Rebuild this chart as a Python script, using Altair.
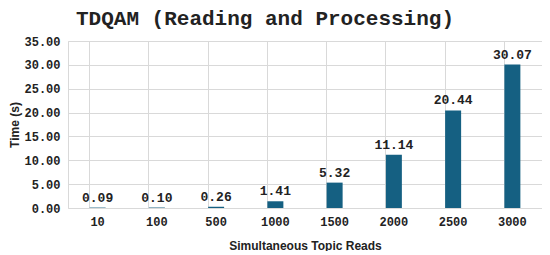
import altair as alt
import pandas as pd

categories = ["10", "100", "500", "1000", "1500", "2000", "2500", "3000"]
times = [0.09, 0.10, 0.26, 1.41, 5.32, 11.14, 20.44, 30.07]
y_ticks = [0, 5, 10, 15, 20, 25, 30, 35]

df = pd.DataFrame({"reads": categories, "time": times})

mono = "Liberation Mono"
sans = "Liberation Sans"

x = alt.X("reads:N", sort=categories, title="Simultaneous Topic Reads",
          scale=alt.Scale(paddingInner=0.73, paddingOuter=0.365),
          axis=alt.Axis(labelAngle=0, labelFont=mono, labelFontWeight="bold", labelFontSize=12,
                        labelColor="#222222", titleFont=sans, titleFontWeight="bold",
                        titleFontSize=12, titleColor="#222222", titlePadding=13,
                        domain=False, ticks=False, grid=True, bandPosition=0,
                        gridColor="#d9d9d9", labelPadding=8))
y = alt.Y("time:Q", title="Time (s)",
          scale=alt.Scale(domain=[0, 35], nice=False),
          axis=alt.Axis(values=y_ticks, tickCount=8, format=".2f", labelOverlap=False,
                        labelFont=mono, labelFontWeight="bold", labelFontSize=12,
                        labelColor="#222222", titleFont=sans, titleFontWeight="bold",
                        titleFontSize=12, titleColor="#222222", titlePadding=2,
                        domain=False, ticks=False, gridColor="#d9d9d9", labelPadding=8))

base = alt.Chart(df).encode(x=x, y=y)
bars = base.mark_bar(color="#156082")
labels = base.mark_text(dy=-10, font=mono, fontWeight="bold", fontSize=13,
                        color="#222222").encode(text=alt.Text("time:Q", format=".2f"))

chart = (bars + labels).properties(
    width=534, height=243,
    autosize=alt.AutoSizeParams(type="fit", contains="padding"),
    padding={"left": 0, "right": 0, "top": 0, "bottom": 0},
    title=alt.TitleParams("TDQAM (Reading and Processing)", font=mono, fontSize=21,
                          fontWeight="bold", color="#222222", offset=6, dx=-40),
).configure_view(stroke="#d9d9d9")

chart.save("out.html", embed_options={"renderer": "svg", "actions": False})
